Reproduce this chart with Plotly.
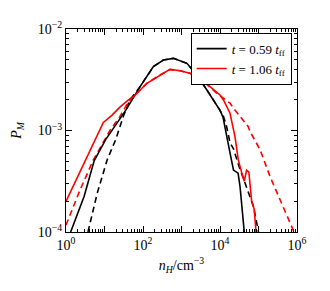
import plotly.graph_objects as go

# ---- data ----
nH_black_solid = [1.32, 2.0, 2.95, 5.37, 10.7, 20.0, 38.0, 83.2, 186, 339, 617, 1380, 2510, 4570,
                  7410, 10000, 12000, 14800, 18200, 22400, 29500, 33100, 39800, 42700]
P_black_solid = [1.0e-4, 1.51e-4, 2.24e-4, 5.01e-4, 8.13e-4, 1.15e-3, 1.64e-3, 2.69e-3, 4.27e-3, 4.95e-3,
                 5.14e-3, 4.59e-3, 3.52e-3, 2.51e-3, 1.91e-3, 1.58e-3, 1.35e-3, 9.33e-4, 6.03e-4,
                 4.07e-4, 3.80e-4, 2.82e-4, 1.32e-4, 1.0e-4]

nH_black_dash = [3.72, 6.46, 11.7, 19.5, 30.9, 45.7, 83.2, 186, 339, 617, 1380, 2510, 4570, 7410,
                 10000, 12300, 14800, 18200, 22400, 31600, 49000, 63100, 74100, 100000]
P_black_dash = [1.0e-4, 2.40e-4, 5.13e-4, 8.13e-4, 1.38e-3, 2.0e-3, 2.69e-3, 4.27e-3, 4.95e-3, 5.14e-3,
                4.59e-3, 3.52e-3, 2.51e-3, 1.91e-3, 1.58e-3, 1.38e-3, 1.10e-3, 7.59e-4, 6.61e-4,
                4.37e-4, 2.82e-4, 2.19e-4, 1.78e-4, 1.0e-4]

nH_red_solid = [1.0, 2.51, 6.46, 9.33, 15.5, 25.1, 41.7, 56.2, 126, 275, 501, 912, 1660, 3020, 5500,
                10000, 12300, 18200, 24500, 29900, 36300, 42700, 49000, 56200, 66100, 77600, 86100]
P_red_solid = [2.0e-4, 4.2e-4, 8.9e-4, 1.20e-3, 1.41e-3, 1.70e-3, 2.0e-3, 2.15e-3, 2.92e-3, 3.52e-3,
               4.01e-3, 3.88e-3, 3.66e-3, 3.27e-3, 2.70e-3, 2.24e-3, 2.0e-3, 1.48e-3, 8.71e-4,
               5.13e-4, 3.89e-4, 3.16e-4, 4.07e-4, 3.89e-4, 2.04e-4, 1.66e-4, 1.0e-4]

nH_red_dash = [1.0, 2.29, 5.13, 8.91, 13.8, 25.1, 41.7, 56.2, 126, 275, 501, 912, 1660, 3020, 5500,
               8130, 18200, 22400, 54300, 60300, 110000, 200000, 398000, 794000, 891000]
P_red_dash = [1.17e-4, 2.57e-4, 5.13e-4, 7.59e-4, 1.0e-3, 1.37e-3, 1.91e-3, 2.15e-3, 2.92e-3, 3.52e-3,
              3.98e-3, 3.88e-3, 3.66e-3, 3.27e-3, 2.70e-3, 2.34e-3, 1.86e-3, 1.66e-3, 1.09e-3,
              9.77e-4, 6.46e-4, 3.51e-4, 1.92e-4, 1.05e-4, 8.9e-5]

legend_labels = ["<i>t</i> = 0.59 <i>t</i><sub>ff</sub>", "<i>t</i> = 1.06 <i>t</i><sub>ff</sub>"]

x_tickvals = [1, 10, 100, 1e3, 1e4, 1e5, 1e6]
x_ticktext = ["10<sup>0</sup>", "", "10<sup>2</sup>", "", "10<sup>4</sup>", "", "10<sup>6</sup>"]
y_tickvals = [1e-4, 1e-3, 1e-2]
y_ticktext = ["10<sup>−4</sup>", "10<sup>−3</sup>", "10<sup>−2</sup>"]

x_minor = [m * 10 ** k for k in range(0, 6) for m in range(2, 10)]
y_minor = [m * 10 ** k for k in (-4, -3) for m in range(2, 10)]

FONT = "Liberation Serif"

fig = go.Figure()
fig.add_trace(go.Scatter(x=nH_black_dash, y=P_black_dash, mode="lines", showlegend=False,
                         line=dict(color="black", width=1.6, dash="6px,4px")))
fig.add_trace(go.Scatter(x=nH_red_dash, y=P_red_dash, mode="lines", showlegend=False,
                         line=dict(color="red", width=1.6, dash="6px,4px")))
fig.add_trace(go.Scatter(x=nH_black_solid, y=P_black_solid, mode="lines", name=legend_labels[0],
                         line=dict(color="black", width=1.6)))
fig.add_trace(go.Scatter(x=nH_red_solid, y=P_red_solid, mode="lines", name=legend_labels[1],
                         line=dict(color="red", width=1.6)))

fig.update_layout(
    width=330, height=291,
    margin=dict(l=66, r=33, t=29, b=59, autoexpand=False),
    paper_bgcolor="white", plot_bgcolor="white",
    font=dict(family=FONT, size=14, color="black"),
    legend=dict(x=0.977, y=0.982, xanchor="right", yanchor="top",
                bordercolor="black", borderwidth=1, bgcolor="white",
                font=dict(size=13, family=FONT), itemwidth=30,
                tracegroupgap=0),
)
fig.update_xaxes(type="log", range=[0, 6], showgrid=False, zeroline=False, automargin=False,
                 showline=True, linecolor="black", linewidth=1.2, mirror="allticks",
                 ticks="inside", ticklen=6, tickcolor="black", tickwidth=1,
                 tickvals=x_tickvals, ticktext=x_ticktext,
                 minor=dict(tickvals=x_minor, ticks="inside", ticklen=3, tickcolor="black", showgrid=False),
                 title=dict(text="<i>n</i><sub><i>H</i></sub>/cm<sup>−3</sup>", standoff=8,
                            font=dict(size=14)))
fig.update_yaxes(type="log", range=[-4, -2], showgrid=False, zeroline=False, automargin=False,
                 showline=True, linecolor="black", linewidth=1.2, mirror="allticks",
                 ticks="inside", ticklen=6, tickcolor="black", tickwidth=1,
                 tickvals=y_tickvals, ticktext=y_ticktext,
                 minor=dict(tickvals=y_minor, ticks="inside", ticklen=3, tickcolor="black", showgrid=False),
                 title=dict(text="<i>P</i><sub><i>M</i></sub>", standoff=12, font=dict(size=14)))

fig.write_html("out.html", config={"displayModeBar": False},
               post_script="document.body.style.margin='0';document.body.style.padding='0';")
